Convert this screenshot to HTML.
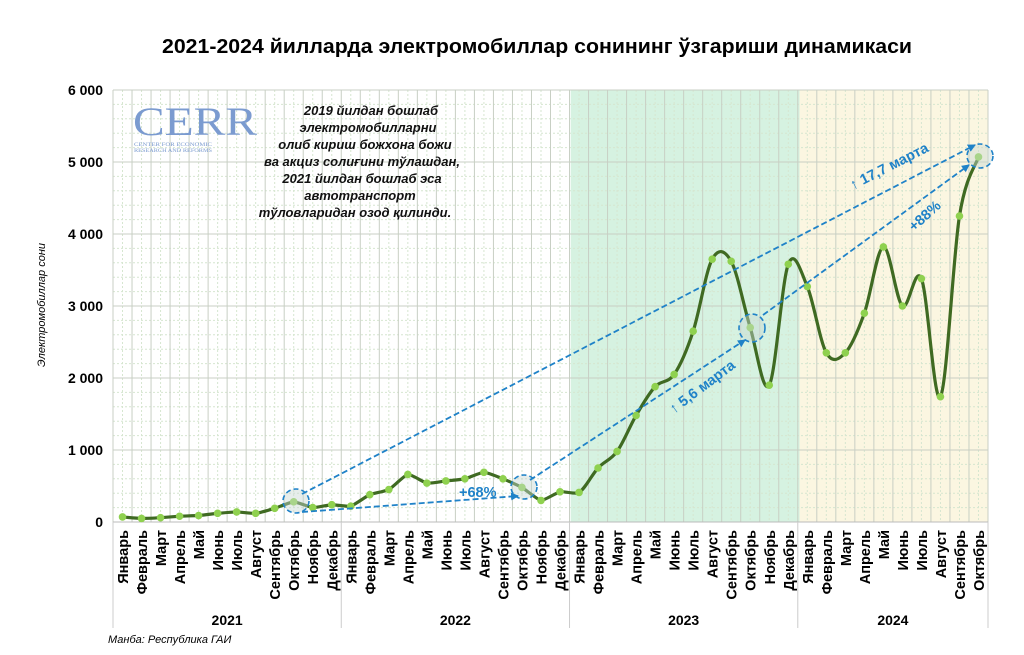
<!DOCTYPE html>
<html><head><meta charset="utf-8"><style>
html,body{margin:0;padding:0;background:#fff;}
svg{display:block;font-family:"Liberation Sans",Arial,sans-serif;}
</style></head><body>
<svg id="s" width="1024" height="655" viewBox="0 0 1024 655" xmlns="http://www.w3.org/2000/svg">
<defs>
<marker id="ah" markerWidth="8" markerHeight="8" refX="7" refY="4" orient="auto" markerUnits="userSpaceOnUse"><path d="M0,0 L8,4 L0,8 z" fill="#1f82c8"/></marker>
</defs>
<text x="537" y="53" text-anchor="middle" font-size="20" font-weight="bold" fill="#000" textLength="750" lengthAdjust="spacingAndGlyphs">2021-2024 йилларда электромобиллар сонининг ўзгариши динамикаси</text>
<rect x="570.7" y="90" width="228.8" height="432" fill="#d6f2e1"/>
<rect x="799.5" y="90" width="188.5" height="432" fill="#fbf6e1"/>
<g id="grid"></g>
<text x="133" y="135" font-family="Liberation Serif,serif" font-size="40" fill="#7b9bd0" textLength="124" lengthAdjust="spacingAndGlyphs">CERR</text>
<text x="134" y="146" font-family="Liberation Serif,serif" font-size="5.5" fill="#7b9bd0" textLength="78" lengthAdjust="spacingAndGlyphs">CENTER FOR ECONOMIC</text>
<text x="134" y="152" font-family="Liberation Serif,serif" font-size="5.5" fill="#7b9bd0" textLength="78" lengthAdjust="spacingAndGlyphs">RESEARCH AND REFORMS</text>
<g font-size="13" font-weight="bold" font-style="italic" text-anchor="middle" fill="#111">
<text x="371" y="115">2019 йилдан бошлаб</text>
<text x="368" y="132">электромобилларни</text>
<text x="365" y="149">олиб кириш божхона божи</text>
<text x="362" y="166">ва акциз солиғини тўлашдан,</text>
<text x="362" y="183">2021 йилдан бошлаб эса</text>
<text x="360" y="200">автотранспорт</text>
<text x="355" y="217">тўловларидан озод қилинди.</text>
</g>
<g id="axes" fill="#000"></g>
<path id="line" fill="none" stroke="#3f6a22" stroke-width="3.2"/>
<g id="pts"></g>
<g fill="rgba(200,215,210,0.45)" stroke="#1f82c8" stroke-width="1.6" stroke-dasharray="5,3">
<ellipse cx="296" cy="501" rx="13" ry="12"/>
<ellipse cx="524" cy="487" rx="13" ry="12"/>
<ellipse cx="752" cy="328" rx="13" ry="14"/>
<ellipse cx="980" cy="156" rx="13" ry="12"/>
</g>
<g stroke="#1f82c8" stroke-width="1.8" stroke-dasharray="6,3" fill="none" marker-end="url(#ah)">
<line x1="302" y1="494" x2="975" y2="145"/>
<line x1="302" y1="512" x2="518" y2="496"/>
<line x1="530" y1="480" x2="745" y2="340"/>
<line x1="763" y1="315" x2="969" y2="165"/>
</g>
<g fill="#1f82c8" font-weight="bold" font-size="14.5">
<text x="459" y="497">+68%</text>
<text transform="translate(674,414) rotate(-37)">↑ 5,6 марта</text>
<text transform="translate(853,190) rotate(-27)">↑ 17,7 марта</text>
<text transform="translate(914,232) rotate(-42)">+88%</text>
</g>
<text transform="translate(45,305) rotate(-90)" text-anchor="middle" font-size="11" font-style="italic">Электромобиллар сони</text>
<text x="108" y="643" font-size="11" font-style="italic">Манба: Республика ГАИ</text>
</svg>
<script>
var NS="http://www.w3.org/2000/svg";
function el(t,a,p,txt){var e=document.createElementNS(NS,t);for(var k in a)e.setAttribute(k,a[k]);if(txt!==undefined)e.textContent=txt;p.appendChild(e);return e;}
var X0=113,X1=988,Y0=522,N=46,cw=(X1-X0)/N;
function px(i){return X0+cw*(i+0.5);}
function py(v){return Y0-v*0.072;}
var g=document.getElementById('grid');
for(var v=200;v<6000;v+=200){if(v%1000)el('line',{x1:X0,x2:X1,y1:py(v),y2:py(v),stroke:'#d6e6d0','stroke-width':1,'stroke-dasharray':'2,2'},g);}
for(var i=0;i<N;i++){el('line',{x1:X0+cw*(i+0.5),x2:X0+cw*(i+0.5),y1:90,y2:Y0,stroke:'#d6e6d0','stroke-width':1,'stroke-dasharray':'2,2'},g);}
for(var v=1000;v<=6000;v+=1000){el('line',{x1:X0,x2:X1,y1:py(v),y2:py(v),stroke:'#c8cfc4','stroke-width':1},g);}
for(var i=0;i<=N;i++){el('line',{x1:X0+cw*i,x2:X0+cw*i,y1:90,y2:Y0,stroke:'#c8cfc4','stroke-width':1},g);}
var ax=document.getElementById('axes');
el('line',{x1:X0,x2:X1,y1:Y0,y2:Y0,stroke:'#bbb'},ax);
['0','1 000','2 000','3 000','4 000','5 000','6 000'].forEach(function(t,k){el('text',{x:103,y:py(k*1000)+5,'text-anchor':'end','font-weight':'bold','font-size':14},ax,t);});
var m=['Январь','Февраль','Март','Апрель','Май','Июнь','Июль','Август','Сентябрь','Октябрь','Ноябрь','Декабрь'];
for(var i=0;i<N;i++){var x=px(i)+5.5;el('text',{transform:'translate('+x+',530) rotate(-90)','text-anchor':'end','font-weight':'bold','font-size':14.5},ax,m[i%12]);}
[0,12,24,36,46].forEach(function(i){el('line',{x1:X0+cw*i,x2:X0+cw*i,y1:Y0,y2:628,stroke:'#ccc'},ax);});
[['2021',6],['2022',18],['2023',30],['2024',41]].forEach(function(a){el('text',{x:X0+cw*a[1],y:625,'text-anchor':'middle','font-weight':'bold','font-size':14},ax,a[0]);});
var d=[70,50,60,80,90,120,140,120,190,280,200,240,220,380,450,660,540,570,600,690,600,480,300,420,410,750,980,1480,1880,2050,2650,3650,3620,2700,1900,3580,3270,2350,2350,2900,3820,3000,3380,1740,4250,5070];
var P=d.map(function(v,i){return [px(i),py(v)];});
var s='M'+P[0][0]+','+P[0][1];
for(var i=0;i<P.length-1;i++){var p0=P[Math.max(0,i-1)],p1=P[i],p2=P[i+1],p3=P[Math.min(P.length-1,i+2)];var t=i>=24?1/6:1/12;
s+=' C'+(p1[0]+(p2[0]-p0[0])*t)+','+(p1[1]+(p2[1]-p0[1])*t)+' '+(p2[0]-(p3[0]-p1[0])*t)+','+(p2[1]-(p3[1]-p1[1])*t)+' '+p2[0]+','+p2[1];}
document.getElementById('line').setAttribute('d',s);
var pg=document.getElementById('pts');
P.forEach(function(p){el('circle',{cx:p[0],cy:p[1],r:3.8,fill:'#8fd14f'},pg);});
</script>
</body></html>
